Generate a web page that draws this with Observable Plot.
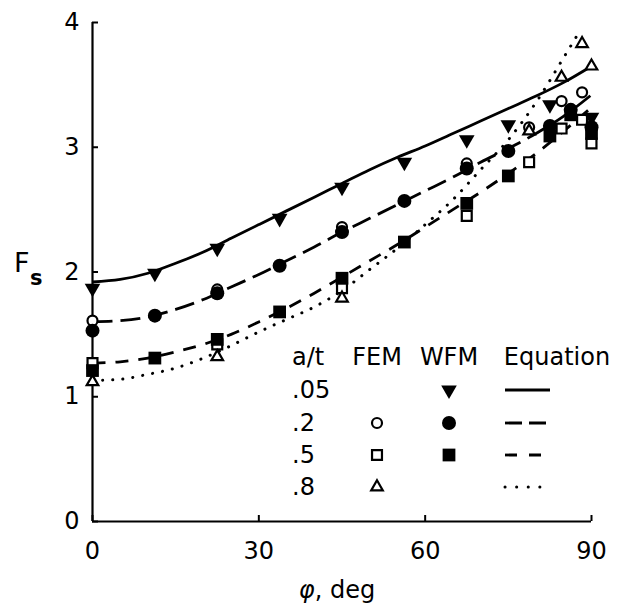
<!DOCTYPE html>
<html><head><meta charset="utf-8">
<script src="https://cdn.jsdelivr.net/npm/d3@7"></script>
<script src="https://cdn.jsdelivr.net/npm/@observablehq/plot@0.6"></script>
<style>
body{margin:0;background:#fff;}
#wrap{position:relative;width:626px;height:610px;font-family:"DejaVu Sans",sans-serif;}
#wrap svg{position:absolute;left:0;top:0;}
</style></head><body><div id="wrap"></div>
<script>
// Equation curves (phi in degrees)
const eqPhi = [0,5,10,15,20,25,30,35,40,45,50,55,60,65,70,75,80,85,90];
const eq05 = [1.92,1.94,1.99,2.07,2.16,2.27,2.38,2.49,2.60,2.71,2.82,2.92,3.01,3.11,3.21,3.31,3.41,3.52,3.65];
const eq2  = [1.60,1.61,1.64,1.70,1.78,1.88,1.98,2.09,2.20,2.32,2.43,2.54,2.65,2.76,2.88,2.99,3.11,3.25,3.42];
const eq5  = [1.27,1.28,1.31,1.36,1.42,1.50,1.60,1.71,1.83,1.96,2.09,2.22,2.36,2.50,2.64,2.79,2.95,3.13,3.32];
const eqPhi8 = [0,5,10,15,20,25,30,35,40,45,50,55,60,65,70,75,80,85,88];
const eq8  = [1.13,1.14,1.18,1.23,1.31,1.41,1.52,1.62,1.72,1.85,2.02,2.19,2.38,2.58,2.82,3.06,3.36,3.72,3.94];

// WFM (filled symbols)
const wfmPhi = [0,11.25,22.5,33.75,45,56.25,67.5,75,82.5,86.25,90];
const wfm05 = [1.87,1.99,2.19,2.43,2.68,2.88,3.06,3.18,3.34,null,3.24];
const wfm2  = [1.53,1.65,1.83,2.05,2.32,2.57,2.83,2.97,3.17,3.30,3.16];
const wfm5  = [1.21,1.31,1.46,1.68,1.95,2.24,2.55,2.77,3.09,3.26,3.11];

// FEM (open symbols)
const femPhi = [0,22.5,45,67.5,78.75,84.6,88.3,90];
const fem2 = [1.61,1.86,2.36,2.87,3.16,3.37,3.44,null];
const fem5 = [1.27,1.42,1.87,2.45,2.88,3.15,3.22,3.03];
const fem8 = [1.12,1.32,1.79,null,3.13,3.56,3.83,3.65];

const xTicks = [0,30,60,90];
const yTicks = [0,1,2,3,4];
const legendRows = [".05",".2",".5",".8"];
const legendCols = ["FEM","WFM","Equation"];

const toPts = (xs, ys) => xs.map((x,i)=>({x, y: ys[i]})).filter(d => d.y != null);

const styles = [
  {data: toPts(eqPhi, eq05), dash: null, w: 2.8},
  {data: toPts(eqPhi, eq2), dash: "20 8", w: 2.8},
  {data: toPts(eqPhi, eq5), dash: "13 10", w: 2.8},
  {data: toPts(eqPhi8, eq8), dash: "0.1 10", cap: "round", w: 3}
];

const openStyle = {fill:"white", stroke:"black", strokeWidth:2.2};
const plot = Plot.plot({
  width: 626, height: 610,
  marginLeft: 92, marginRight: 35, marginTop: 22, marginBottom: 89,
  style: {fontFamily: "DejaVu Sans, sans-serif", fontSize: "24px", background: "white", color: "black"},
  x: {domain: [0, 90]},
  y: {domain: [0, 4]},
  marks: [
    Plot.ruleX([0], {strokeWidth: 2.2}),
    Plot.ruleY([0], {strokeWidth: 2.2}),
    Plot.axisX({ticks: xTicks, tickSize: -6, tickPadding: 26, label: null, strokeWidth: 2, tickFormat: d => String(d)}),
    Plot.axisY({ticks: yTicks, tickSize: -6, tickPadding: 19, label: null, strokeWidth: 2, tickFormat: d => String(d)}),
    ...styles.map(s => Plot.line(s.data, {x: "x", y: "y", stroke: "black", curve: "monotone-x", strokeWidth: s.w, strokeDasharray: s.dash ?? undefined, strokeLinecap: s.cap ?? "butt"})),
    Plot.dot(toPts(femPhi, fem2), {x:"x", y:"y", symbol:"circle", r:5, ...openStyle}),
    Plot.dot(toPts(femPhi, fem5), {x:"x", y:"y", symbol:"square", r:5.6, ...openStyle}),
    Plot.dot(toPts(femPhi, fem8), {x:"x", y:"y", symbol:"triangle", r:4.3, ...openStyle}),
    Plot.dot(toPts(wfmPhi, wfm5), {x:"x", y:"y", symbol:"square", r:7.2, fill:"black"}),
    Plot.dot(toPts(wfmPhi, wfm2), {x:"x", y:"y", symbol:"circle", r:7, fill:"black"}),
    Plot.dot(toPts(wfmPhi, wfm05), {x:"x", y:"y", symbol:"triangle", r:5.8, rotate:180, fill:"black"})
  ]
});
const wrap = document.getElementById("wrap");
wrap.appendChild(plot);

// Overlay: axis titles and legend
const ov = d3.select(wrap).append("svg").attr("width",626).attr("height",610)
  .style("pointer-events","none").attr("font-family","DejaVu Sans, sans-serif");
// y title F_s
ov.append("text").attr("x",14).attr("y",272).attr("font-size",27).text("F");
ov.append("text").attr("x",30).attr("y",285).attr("font-size",21).attr("font-weight","bold").text("s");
// x title
const xt = ov.append("text").attr("x",337).attr("y",598).attr("font-size",24).attr("text-anchor","middle");
xt.append("tspan").attr("font-style","italic").text("φ");
xt.append("tspan").text(", deg");

// Legend
const lg = ov.append("g").attr("font-size",24);
lg.append("text").attr("x",292).attr("y",357).attr("dominant-baseline","central").text("a/t");
const colX = [377, 449, 557];
legendCols.forEach((c,i)=> lg.append("text").attr("x",colX[i]).attr("y",357).attr("text-anchor","middle").attr("dominant-baseline","central").text(c));
const rowY = [390, 423, 455, 487];
legendRows.forEach((r,i)=> lg.append("text").attr("x",292).attr("y",rowY[i]).attr("dominant-baseline","central").text(r));
const sym = (type, size) => d3.symbol(type, size)();
const femSyms = [null, {t:d3.symbolCircle, r:5}, {t:d3.symbolSquare, r:5.6}, {t:d3.symbolTriangle, r:4.3}];
const wfmSyms = [{t:d3.symbolTriangle, r:5.8, rot:180}, {t:d3.symbolCircle, r:7}, {t:d3.symbolSquare, r:7.2}, null];
femSyms.forEach((s,i)=>{ if(!s) return;
  lg.append("path").attr("d", sym(s.t, Math.PI*s.r*s.r)).attr("transform",`translate(${colX[0]},${rowY[i]})`)
    .attr("fill","white").attr("stroke","black").attr("stroke-width",2.2); });
wfmSyms.forEach((s,i)=>{ if(!s) return;
  lg.append("path").attr("d", sym(s.t, Math.PI*s.r*s.r)).attr("transform",`translate(${colX[1]},${rowY[i]})${s.rot?` rotate(${s.rot})`:""}`)
    .attr("fill","black"); });
const legDash = [null, "17 7", "12 12", "0.1 11.5"];
legDash.forEach((d,i)=>{
  const ln = lg.append("line").attr("x1",505).attr("x2",550).attr("y1",rowY[i]).attr("y2",rowY[i])
    .attr("stroke","black").attr("stroke-width",2.8);
  if (d) ln.attr("stroke-dasharray", d);
  if (i===3) ln.attr("stroke-linecap","round").attr("stroke-width",3);
});
</script></body></html>
